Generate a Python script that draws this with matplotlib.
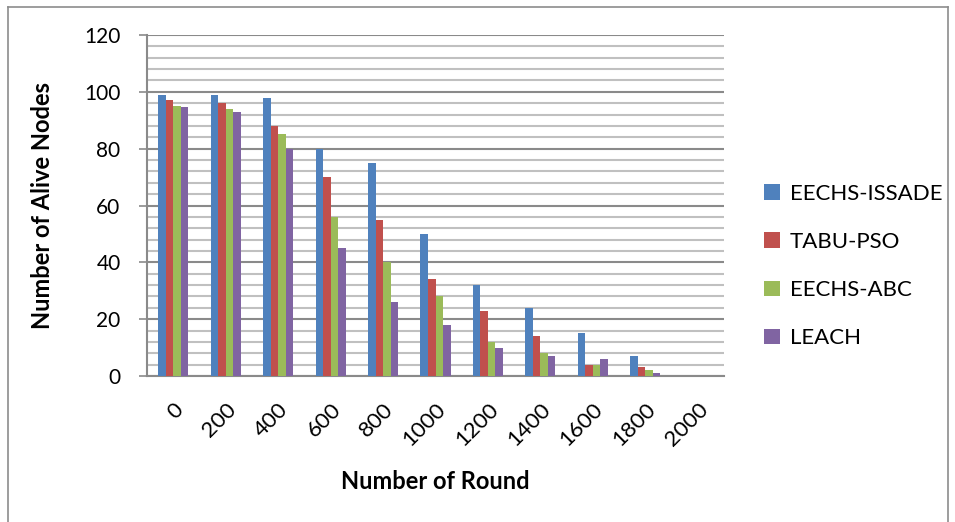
import numpy as np
import matplotlib.pyplot as plt
from matplotlib.lines import Line2D

plt.rcParams['font.family'] = ['Lato', 'DejaVu Sans']

rounds = ['0', '200', '400', '600', '800', '1000', '1200', '1400', '1600', '1800', '2000']
eechs_issade = [99, 99, 98, 80, 75, 50, 32, 24, 15, 7, 0]
tabu_pso = [97, 96, 88, 70, 55, 34, 23, 14, 4, 3, 0]
eechs_abc = [95, 94, 85, 56, 40, 28, 12, 8, 4, 2, 0]
leach = [94.5, 93, 80, 45, 26, 18, 10, 7, 6, 1, 0]

series = [
    ('EECHS-ISSADE', eechs_issade, '#4F81BD'),
    ('TABU-PSO', tabu_pso, '#C0504D'),
    ('EECHS-ABC', eechs_abc, '#9BBB59'),
    ('LEACH', leach, '#8064A2'),
]

W, H = 955, 522
fig = plt.figure(figsize=(W / 100, H / 100), dpi=100)

# outer chart border
for xs, ys in [([8, 948], [7, 7]), ([8, 8], [7, 530]), ([948, 948], [7, 530])]:
    fig.add_artist(Line2D([x / W for x in xs], [1 - y / H for y in ys],
                          color='#8c8c8c', lw=1.2))

left, right, top, bottom = 147, 724, 35, 376
ax = fig.add_axes([left / W, 1 - bottom / H, (right - left) / W, (bottom - top) / H])

x = np.arange(len(rounds))
bw = 0.143
for i, (name, vals, col) in enumerate(series):
    ax.bar(x + (i - 1.5) * bw, vals, width=bw, color=col, label=name, zorder=3)

ax.set_xlim(-0.5, len(rounds) - 0.5)
ax.set_ylim(0, 120)
ax.set_yticks(np.arange(0, 121, 20))
ax.set_yticks(np.arange(0, 121, 4), minor=True)
ax.grid(which='minor', axis='y', color='#c0c0c0', lw=1.5, zorder=1)
ax.grid(which='major', axis='y', color='#8a8a8a', lw=1.5, zorder=2)
ax.tick_params(axis='y', which='major', length=6, width=1.2, color='#8a8a8a',
               labelsize=15, pad=13)
ax.tick_params(axis='y', which='minor', length=0)
ax.set_xticks(x)
ax.set_xticklabels(rounds, rotation=45, ha='right', rotation_mode='anchor')
ax.tick_params(axis='x', length=0, labelsize=16, pad=17)

for s in ['top', 'right']:
    ax.spines[s].set_visible(False)
for s in ['left', 'bottom']:
    ax.spines[s].set_color('#8a8a8a')
    ax.spines[s].set_linewidth(1.5)

ax.set_ylabel('Number of Alive Nodes', fontsize=17, fontweight='bold', labelpad=22)
ax.set_xlabel('Number of Round', fontsize=17, fontweight='bold', labelpad=14)

fig.legend(loc='center left', bbox_to_anchor=(764 / W, 1 - 266 / H), frameon=False,
           fontsize=16, handlelength=0.7, handleheight=0.7, handletextpad=0.45,
           labelspacing=1.27, borderpad=0, borderaxespad=0)

fig.savefig('out.png', dpi=100)
